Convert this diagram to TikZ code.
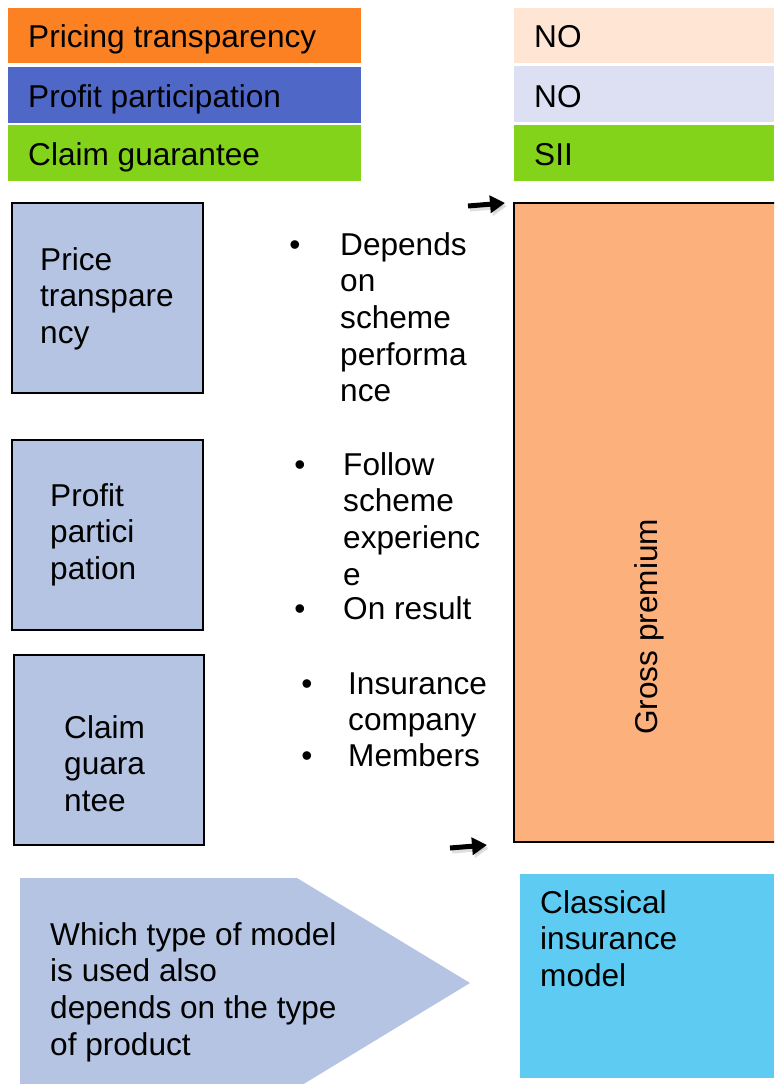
\documentclass[tikz,border=0pt]{standalone}
\usepackage{fontspec}
\setmainfont{Liberation Sans}
\usetikzlibrary{arrows.meta}
\definecolor{cOrange}{HTML}{FC8122}
\definecolor{cBlue}{HTML}{4F68C8}
\definecolor{cGreen}{HTML}{82D31A}
\definecolor{cPeach}{HTML}{FEE5D4}
\definecolor{cLav}{HTML}{DCE0F2}
\definecolor{cBox}{HTML}{B4C4E2}
\definecolor{cGross}{HTML}{FCB17C}
\definecolor{cClass}{HTML}{5ECBF3}
\tikzset{
  txt/.style={font=\fontsize{31.6}{36.7}\selectfont, align=left, inner sep=0pt, anchor=base west, text=black},
  bul/.style={font=\fontsize{31.6}{36.7}\selectfont, inner sep=0pt, anchor=base, text=black},
  lbox/.style={fill=cBox, draw=black, line width=1.5pt},
  arr/.style={line width=5pt, -{Triangle[length=15pt,width=17pt]}},
  arrsh/.style={line width=5pt, -{Triangle[length=15pt,width=17pt]}, draw=black!25, opacity=0.5}
}
\begin{document}
% note: the base anchor of a multi-line node is the baseline of its last line
\begin{tikzpicture}[x=1pt,y=-1pt]
\useasboundingbox (0,0) rectangle (774,1084);
\begin{scope}
\clip (0,0) rectangle (774,1084);
% top bars
\fill[cOrange] (8,8) rectangle (361,63);
\fill[cBlue] (8,67) rectangle (361,123);
\fill[cGreen] (8,125) rectangle (361,181);
\fill[cPeach] (514,8) rectangle (774,63);
\fill[cLav] (514,66) rectangle (774,122);
\fill[cGreen] (514,125) rectangle (774,181);
\node[txt] (t1) at (28,47) {Pricing transparency};
\node[txt] (t2) at (28,107) {Profit participation};
\node[txt] (t3) at (28,165) {Claim guarantee};
\node[txt] (r1) at (534,47) {NO};
\node[txt] (r2) at (534,107) {NO};
\node[txt] (r3) at (534,165) {SII};
% left boxes
\draw[lbox] (12,203) rectangle (203,393);
\draw[lbox] (12,440) rectangle (203,630);
\draw[lbox] (14,655) rectangle (204,845);
\node[txt] (p1) at (40,343.4) {Price\\transpare\\ncy};
\node[txt] (p2) at (50,579.4) {Profit\\partici\\pation};
\node[txt] (p3) at (64,811.4) {Claim\\guara\\ntee};
% bullets
\node[bul] (b1) at (295,255) {\textbullet};
\node[txt] (d1) at (340,401.8) {Depends\\on\\scheme\\performa\\nce};
\node[bul] (b2) at (300,475) {\textbullet};
\node[txt] (d2) at (343,585.1) {Follow\\scheme\\experienc\\e};
\node[bul] (b3) at (300,619) {\textbullet};
\node[txt] (d3) at (343,619) {On result};
\node[bul] (b4) at (307,694) {\textbullet};
\node[txt] (d4) at (348,730.7) {Insurance\\company};
\node[bul] (b5) at (307,766) {\textbullet};
\node[txt] (d5) at (348,766) {Members};
% gross premium
\draw[fill=cGross, draw=black, line width=1.5pt] (514,203) rectangle (778,842);
\node[bul, rotate=90] (gp) at (657,627) {Gross premium};
% arrows
\coordinate (a1s) at (468,206);
\coordinate (a1e) at (505,203);
\coordinate (a2s) at (450,848);
\coordinate (a2e) at (487,845);
\draw[arrsh] ([shift={(2,3)}]a1s) -- ([shift={(2,3)}]a1e);
\draw[arrsh] ([shift={(2,3)}]a2s) -- ([shift={(2,3)}]a2e);
\draw[arr] (a1s) -- (a1e);
\draw[arr] (a2s) -- (a2e);
% bottom pentagon arrow
\fill[cBox] (20,878) -- (297,878) -- (470,983) -- (297,1088) -- (20,1088) -- cycle;
\node[txt] (w) at (50,1055.1) {Which type of model\\is used also\\depends on the type\\of product};
% classical
\fill[cClass] (520,874) rectangle (774,1078);
\node[txt] (c) at (540,986.4) {Classical\\insurance\\model};
\end{scope}
\end{tikzpicture}
\end{document}
